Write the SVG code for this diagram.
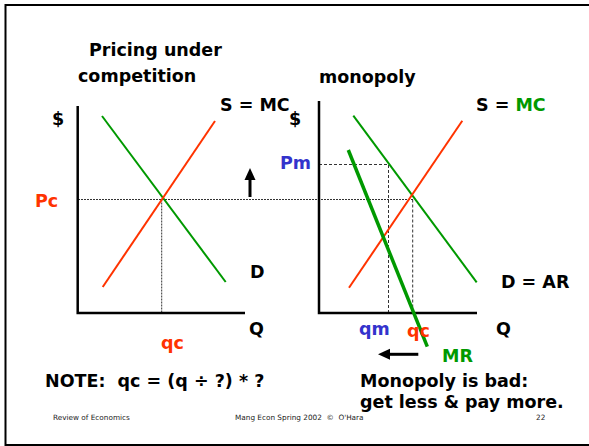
<svg xmlns="http://www.w3.org/2000/svg" width="589" height="446" viewBox="0 0 589 446">
<style>
text{font-family:"DejaVu Sans","Liberation Sans",sans-serif;font-weight:bold;font-size:17.5px;fill:#000;white-space:pre}
.red{fill:#ff3300}.grn{fill:#009900}.blu{fill:#3333cc}
.small{font-weight:normal;font-size:7.3px;fill:#222}
.axis{stroke:#000;stroke-width:2.5;fill:none}
.s{stroke:#ff3300;stroke-width:2;fill:none}
.d{stroke:#009900;stroke-width:2;fill:none}
.mr{stroke:#009900;stroke-width:3.5;fill:none}
.dot{stroke:#333;stroke-width:1;stroke-dasharray:2,1;fill:none}
.dash{stroke:#333;stroke-width:1;stroke-dasharray:3,2;fill:none}
.arr{stroke:#000;stroke-width:3;fill:none}
</style>
<rect x="0" y="0" width="589" height="446" fill="#fff"/>
<path d="M600,5 H5.5 V445 H600" fill="none" stroke="#000" stroke-width="2"/>
<g id="titles">
<text x="89" y="56">Pricing under</text>
<text x="78" y="82">competition</text>
<text x="319" y="83">monopoly</text>
</g>
<g id="connectors">
<path class="dot" d="M78,199.5 H413"/>
<path class="dot" d="M161.7,199.5 V313"/>
<path class="dash" d="M319,164.5 H388.5 V313"/>
<path class="dash" d="M412.7,199.5 V313"/>
<path class="axis" d="M77.7,106 V313 H245"/>
<path class="axis" d="M319,101 V313 H477"/>
<path class="d" d="M102,116 L225.7,282"/>
<path class="s" d="M102.7,287 L215,121"/>
<path class="d" d="M353.3,115.7 L476.7,282.3"/>
<path class="s" d="M349,287.7 L462.3,120.7"/>
<path class="mr" d="M348.3,150 L427.3,346.7"/>
<path class="arr" d="M250,197 V178"/>
<polygon points="250,168 244.5,180 255.5,180" fill="#000"/>
<path class="arr" d="M418.3,354.3 H388"/>
<polygon points="378,354.3 390,348.8 390,359.8" fill="#000"/>
</g>
<g id="left-labels">
<text x="52" y="125">$</text>
<text x="220" y="111">S = MC</text>
<text class="red" x="35" y="207">Pc</text>
<text x="250" y="278">D</text>
<text x="249" y="335">Q</text>
<text class="red" x="161" y="349">qc</text>
<text x="45" y="387" xml:space="preserve">NOTE:  qc = (q ÷ ?) * ?</text>
</g>
<g id="right-labels">
<text x="289" y="125">$</text>
<text x="476" y="111">S = <tspan class="grn">MC</tspan></text>
<text class="blu" x="280" y="169">Pm</text>
<text x="501" y="288">D = AR</text>
<text class="blu" x="359" y="335">qm</text>
<text class="red" x="407" y="337">qc</text>
<text x="496" y="335">Q</text>
<text class="grn" x="442" y="362">MR</text>
<text x="360" y="387">Monopoly is bad:</text>
<text x="360" y="408">get less &amp; pay more.</text>
</g>
<g id="footer">
<text class="small" x="53" y="420">Review of Economics</text>
<text class="small" x="235" y="420" xml:space="preserve">Mang Econ Spring 2002  ©  O'Hara</text>
<text class="small" x="536" y="420">22</text>
</g>
</svg>
